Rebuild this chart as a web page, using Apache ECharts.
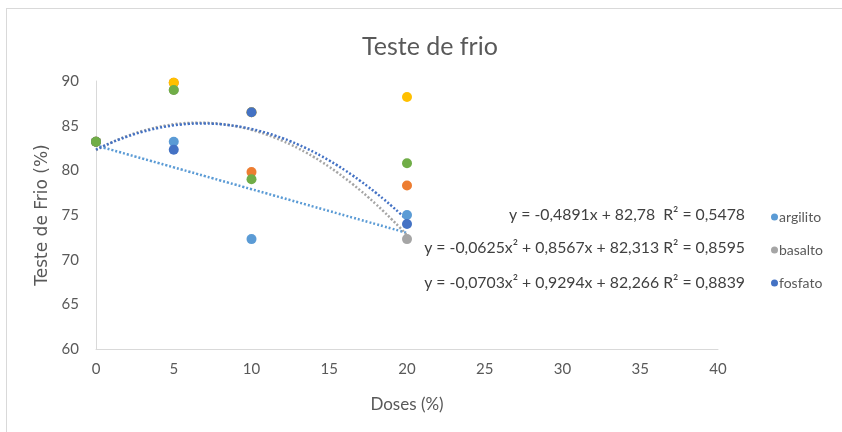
<!DOCTYPE html>
<html>
<head>
<meta charset="utf-8">
<script src="https://cdn.jsdelivr.net/npm/echarts@6/dist/echarts.min.js"></script>
<style>
  html, body { margin: 0; padding: 0; background: #fff; }
  #chart { width: 842px; height: 432px; }
</style>
</head>
<body>
<div id="chart"></div>
<script>
// doses (%) and "teste de frio" values
var doses = [0, 5, 10, 20];
var argilito = [83.2, 83.2, 72.3, 75.0];
var serie2 = [83.2, 89.8, 79.8, 78.3];
var basalto = [83.2, 89.0, 86.5, 72.3];
var serie4 = [83.2, 89.8, 86.5, 88.2];
var fosfato = [83.2, 82.3, 86.5, 74.0];
var serie6 = [83.2, 89.0, 79.0, 80.8];

// trendline coefficients [a2, a1, a0] as printed on the chart
var trendArgilito = [0, -0.4891, 82.78];
var trendBasalto = [-0.0703, 0.9294, 82.266];
var trendFosfato = [-0.0625, 0.8567, 82.313];

var equations = [
  'y = -0,4891x + 82,78  R² = 0,5478',
  'y = -0,0625x² + 0,8567x + 82,313 R² = 0,8595',
  'y = -0,0703x² + 0,9294x + 82,266 R² = 0,8839'
];

function pairs(ys) {
  return doses.map(function (d, i) { return [d, ys[i]]; });
}

function trend(c) {
  var pts = [];
  for (var x = 0; x <= 20; x += 0.5) {
    pts.push([x, c[0] * x * x + c[1] * x + c[2]]);
  }
  return pts;
}

var font = 'Lato, "Open Sans", sans-serif';
var txt = '#595959';

var myChart = echarts.init(document.getElementById('chart'));

function dots(name, ys, color) {
  return {
    name: name,
    type: 'scatter',
    data: pairs(ys),
    symbolSize: 10,
    itemStyle: { color: color, opacity: 1 },
    z: 3
  };
}

function trendLine(c, color) {
  return {
    type: 'line',
    data: trend(c),
    smooth: true,
    showSymbol: false,
    silent: true,
    lineStyle: { color: color, width: 2.5, type: [2, 2] },
    z: 2
  };
}

function eqText(s, y) {
  return {
    type: 'text',
    style: { x: 745, y: y, text: s, align: 'right', verticalAlign: 'middle', font: '15.8px ' + font, fill: '#404040' }
  };
}

var option = {
  animation: false,
  title: {
    text: 'Teste de frio',
    left: 357,
    top: 29,
    textStyle: { fontFamily: font, fontSize: 25, fontWeight: 'normal', color: txt }
  },
  legend: {
    data: ['argilito', 'basalto', 'fosfato'],
    orient: 'vertical',
    left: 766,
    top: 205,
    itemGap: 19,
    itemWidth: 7,
    itemHeight: 7,
    icon: 'circle',
    textStyle: { fontFamily: font, fontSize: 14, color: txt, padding: [0, 0, 0, -4] }
  },
  grid: { left: 96, right: 124, top: 81, bottom: 83 },
  xAxis: {
    type: 'value',
    min: 0,
    max: 40,
    interval: 5,
    name: 'Doses (%)',
    nameLocation: 'middle',
    nameGap: 47,
    nameTextStyle: { fontFamily: font, fontSize: 17, color: txt },
    axisLine: { lineStyle: { color: '#d9d9d9' } },
    axisTick: { show: false },
    splitLine: { show: false },
    axisLabel: { fontFamily: font, fontSize: 15, color: txt, margin: 13 }
  },
  yAxis: {
    type: 'value',
    min: 60,
    max: 90,
    interval: 5,
    name: 'Teste de Frio (%)',
    nameLocation: 'middle',
    nameGap: 42,
    nameTextStyle: { fontFamily: '"DejaVu Sans", sans-serif', fontSize: 17, color: txt },
    axisLine: { show: true, lineStyle: { color: '#d9d9d9' } },
    axisTick: { show: false },
    splitLine: { show: false },
    axisLabel: { fontFamily: font, fontSize: 15, color: txt, margin: 17 }
  },
  graphic: [
    { type: 'line', shape: { x1: 6.5, y1: 8, x2: 6.5, y2: 432 }, style: { stroke: '#d9d9d9', lineWidth: 1 } },
    { type: 'line', shape: { x1: 6, y1: 8.5, x2: 842, y2: 8.5 }, style: { stroke: '#d9d9d9', lineWidth: 1 } },
    eqText(equations[0], 215),
    eqText(equations[1], 248),
    eqText(equations[2], 283)
  ],
  series: [
    trendLine(trendArgilito, '#5B9BD5'),
    trendLine(trendBasalto, '#A5A5A5'),
    trendLine(trendFosfato, '#4472C4'),
    dots('argilito', argilito, '#5B9BD5'),
    dots('serie2', serie2, '#ED7D31'),
    dots('basalto', basalto, '#A5A5A5'),
    dots('serie4', serie4, '#FFC000'),
    dots('fosfato', fosfato, '#4472C4'),
    dots('serie6', serie6, '#70AD47')
  ]
};
myChart.setOption(option);
</script>
</body>
</html>
